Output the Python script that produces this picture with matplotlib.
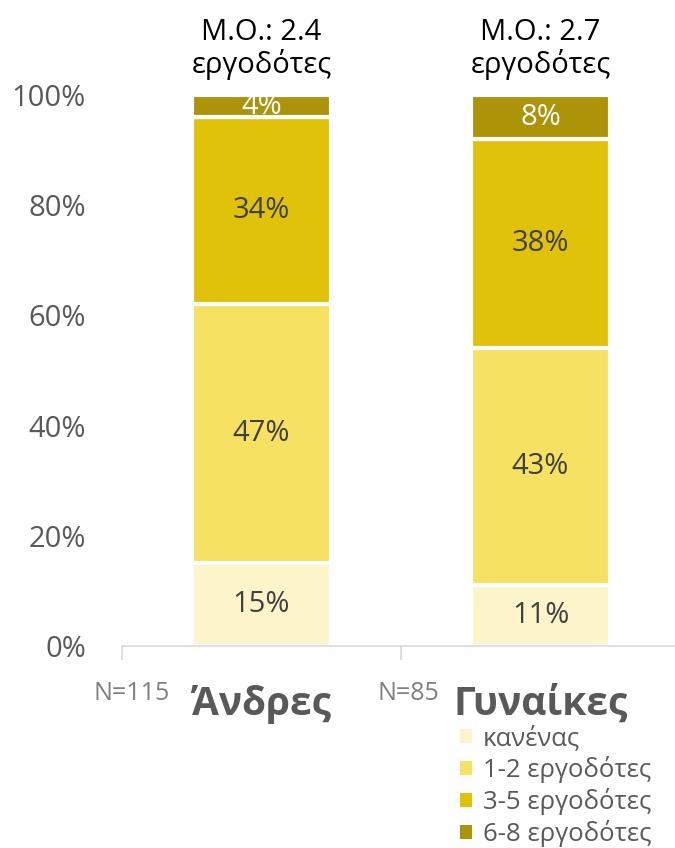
"""Stacked 100% bars: number of employers by gender."""

import matplotlib

matplotlib.use("Agg")
import matplotlib.pyplot as plt  # noqa: E402
from matplotlib.patches import Patch  # noqa: E402

plt.rcParams["font.family"] = ["Open Sans", "DejaVu Sans"]

GROUPS = ["Άνδρες", "Γυναίκες"]
N_LABELS = ["N=115", "N=85"]
MEANS = ["Μ.Ο.: 2.4\nεργοδότες", "Μ.Ο.: 2.7\nεργοδότες"]
SERIES = ["κανένας", "1-2 εργοδότες", "3-5 εργοδότες", "6-8 εργοδότες"]
VALUES = [
    [15, 11],   # κανένας
    [47, 43],   # 1-2
    [34, 38],   # 3-5
    [4, 8],     # 6-8
]
COLORS = ["#FDF5C9", "#F6E163", "#E0C20B", "#AC9307"]
LABEL_COLORS = ["#404040", "#404040", "#404040", "white"]

fig = plt.figure(figsize=(6.75, 8.48), dpi=100)
ax = fig.add_axes([122 / 675, 202 / 848, 553 / 675, 551 / 848])

x = range(len(GROUPS))
bottom = [0, 0]
for vals, col, lc in zip(VALUES, COLORS, LABEL_COLORS):
    ax.bar(x, vals, width=0.5, bottom=bottom, color=col,
           edgecolor="white", linewidth=3)
    for i, v in enumerate(vals):
        ax.text(i, bottom[i] + v / 2, f"{v}%", ha="center", va="center",
                fontsize=21, color=lc)
    bottom = [b + v for b, v in zip(bottom, vals)]

ax.set_xlim(-0.5, 1.482)
ax.set_ylim(0, 100)
ax.set_yticks(range(0, 101, 20))
ax.set_yticklabels([f"{t}%" for t in range(0, 101, 20)], fontsize=21,
                   color="#595959")
ax.tick_params(axis="y", length=0, pad=26)
ax.set_xticks([-0.5, 0.5])
ax.set_xticklabels([])
ax.tick_params(axis="x", length=10, color="#D9D9D9", width=1.2)
for s in ["left", "right", "top"]:
    ax.spines[s].set_visible(False)
ax.spines["bottom"].set_color("#D9D9D9")
ax.spines["bottom"].set_linewidth(1.2)

for i, (m, g) in enumerate(zip(MEANS, GROUPS)):
    ax.text(i, 108.3, m, ha="center", va="center", fontsize=21,
            color="black", linespacing=1.1, clip_on=False)
    ax.text(i, -10.6, g, ha="center", va="center", fontsize=28,
            fontweight="bold", color="#595959", clip_on=False)

# N labels sit just left of each group name
for xpos, n in zip([-0.328, 0.636], N_LABELS):
    ax.text(xpos, -8.6, n, ha="right", va="center", fontsize=18,
            color="#7F7F7F", clip_on=False)

handles = [Patch(facecolor=c, edgecolor="none") for c in COLORS]
fig.legend(handles, SERIES, loc="upper left",
           bbox_to_anchor=(460 / 675, 1 - 725 / 848),
           frameon=False, fontsize=18.5, labelcolor="#595959",
           handlelength=0.45, handleheight=0.45, handletextpad=0.45,
           labelspacing=0.2, borderaxespad=0, borderpad=0)

fig.savefig("out.png", dpi=100)
